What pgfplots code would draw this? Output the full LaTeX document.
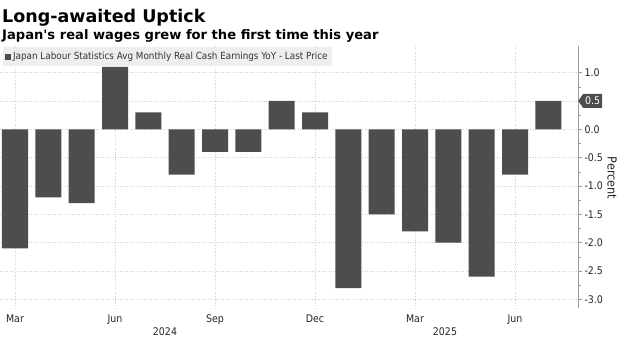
\documentclass[border=0pt]{standalone}
\usepackage{fontspec}
\setmainfont{DejaVu Sans}
\newfontfamily\tfont{DejaVu Sans}
\newfontfamily\cond{DejaVu Sans Condensed}
\usepackage{pgfplots}
\pgfplotsset{compat=1.18}
\usetikzlibrary{shapes.symbols}
\definecolor{barc}{HTML}{4D4D4D}
\definecolor{gridc}{HTML}{D2D2D2}
\definecolor{axc}{HTML}{9A9A9A}
\definecolor{legc}{HTML}{EEEEEE}
\begin{document}
\begin{tikzpicture}[x=1pt,y=1pt]
\begin{axis}[
  scale only axis, width=578pt, height=262pt,
  xmin=-0.45, xmax=16.89, ymin=-3.15, ymax=1.47,
  axis y line*=right, axis x line*=bottom,
  x axis line style={draw=none},
  y axis line style={axc, line width=0.6pt},
  clip=false,
  xtick={0,3,6,9,12,15},
  xticklabels={Mar,Jun,Sep,Dec,Mar,Jun},
  x tick style={draw=none},
  xticklabel style={font=\cond\fontsize{10.5}{12}\selectfont, text=black!85, yshift=1pt},
  ytick={-3,-2.5,-2,-1.5,-1,-0.5,0,0.5,1},
  yticklabels={-3.0,-2.5,-2.0,-1.5,-1.0,-0.5,0.0,,1.0},
  minor y tick num=1,
  y tick style={axc, line width=0.5pt},
  tick align=outside,
  major tick length=4pt, minor tick length=2.5pt,
  yticklabel style={font=\cond\fontsize{10.5}{12}\selectfont, text=black!85, xshift=-1pt},
  xmajorgrids, ymajorgrids,
  grid style={gridc, dotted, line width=0.6pt},
  legend style={at={(0.005,0.995)}, anchor=north west, fill=legc, draw=none,
    font=\cond\fontsize{9.8}{11}\selectfont, text=black!80, inner xsep=2pt, inner ysep=3pt},
  legend image code/.code={\fill[barc] (0pt,-3pt) rectangle (6pt,3pt);},
]
\addplot[ybar, bar width=0.78, fill=barc, draw=none] coordinates {
(0,-2.1) (1,-1.2) (2,-1.3) (3,1.1) (4,0.3) (5,-0.8) (6,-0.4) (7,-0.4) (8,0.5)
(9,0.3) (10,-2.8) (11,-1.5) (12,-1.8) (13,-2.0) (14,-2.6) (15,-0.8) (16,0.5)};
\addlegendentry{Japan Labour Statistics Avg Monthly Real Cash Earnings YoY - Last Price}
\node[shape=signal, signal to=west, signal pointer angle=110, fill=barc, text=white,
  font=\cond\fontsize{10.5}{12}\selectfont, inner xsep=2pt, inner ysep=1.5pt, anchor=west, minimum height=14pt]
  at (axis cs:16.89,0.5) {0.5};
\node[font=\cond\fontsize{10.5}{12}\selectfont, text=black!85] at (axis cs:4.5,-3.15) [yshift=-24pt] {2024};
\node[font=\cond\fontsize{10.5}{12}\selectfont, text=black!85] at (axis cs:12.9,-3.15) [yshift=-24pt] {2025};
\node[xshift=34pt, rotate=-90, font=\cond\fontsize{12.5}{15}\selectfont, text=black!85] at (rel axis cs:1,0.496) {Percent};
\coordinate (O) at (axis cs:-0.45,0);
\end{axis}
\node[anchor=base west, font=\tfont\bfseries\fontsize{17.5}{20}\selectfont, inner sep=0] at ([shift={(2,106.6)}]O) {Long-awaited Uptick};
\node[anchor=base west, font=\tfont\bfseries\fontsize{13.1}{15}\selectfont, inner sep=0] at ([shift={(2,90.1)}]O) {Japan's real wages grew for the first time this year};
\pgfresetboundingbox
\path[use as bounding box, shift={(O)}] (0,-210.7) rectangle (625,129.3);
\end{tikzpicture}
\end{document}
